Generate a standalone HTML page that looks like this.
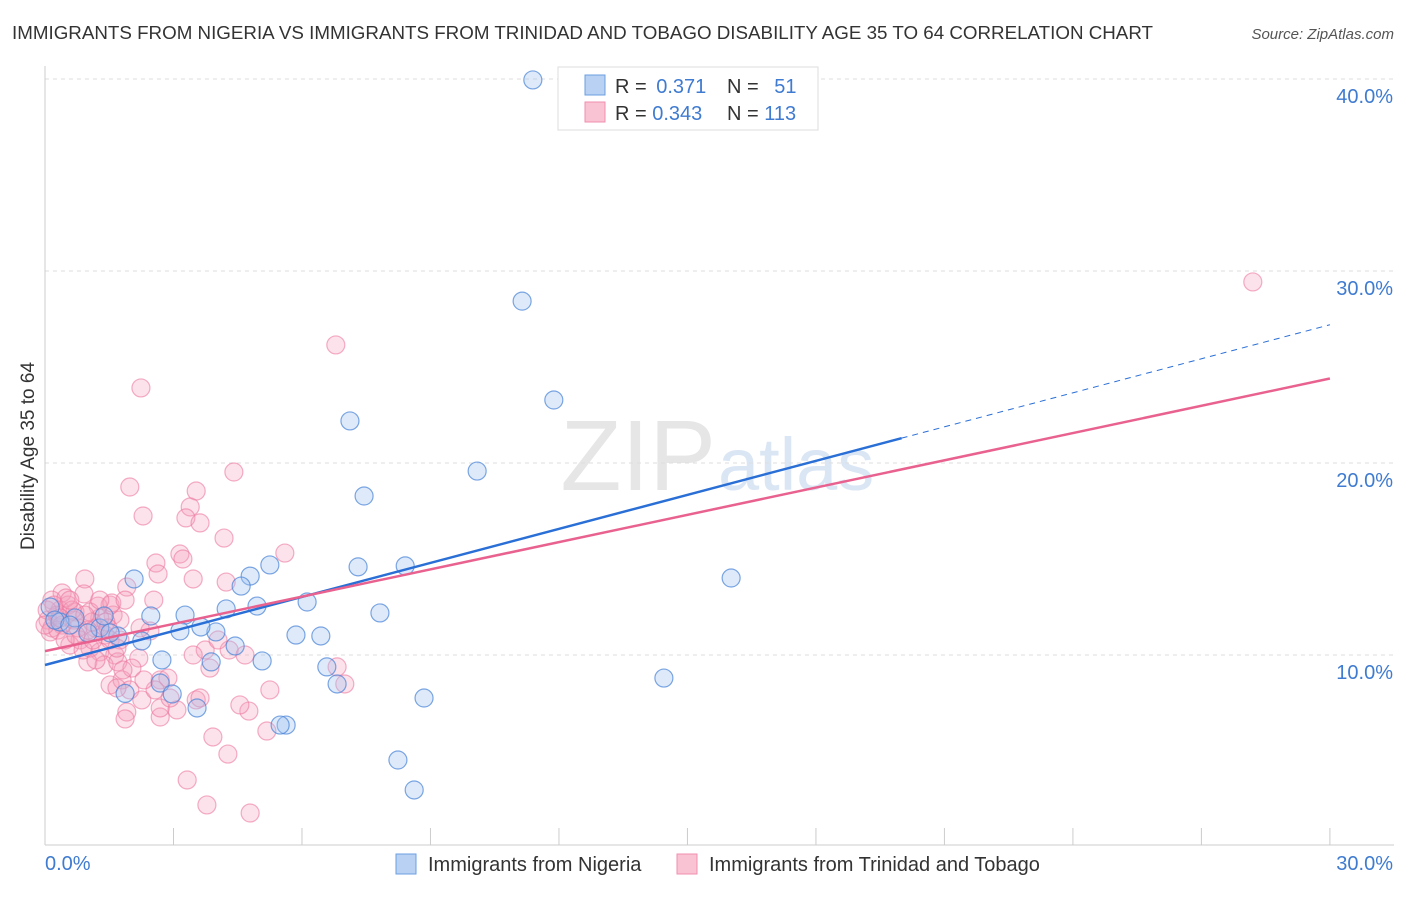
<!DOCTYPE html>
<html><head><meta charset="utf-8"><style>
body{margin:0;background:#fff;font-family:"Liberation Sans",sans-serif;}
svg text{font-family:"Liberation Sans",sans-serif;}
</style></head><body>
<svg width="1406" height="892" xmlns="http://www.w3.org/2000/svg">
<text x="12" y="39" font-size="18" fill="#333" textLength="1141" lengthAdjust="spacingAndGlyphs">IMMIGRANTS FROM NIGERIA VS IMMIGRANTS FROM TRINIDAD AND TOBAGO DISABILITY AGE 35 TO 64 CORRELATION CHART</text>
<text x="1394" y="39" font-size="15" fill="#555" font-style="italic" text-anchor="end">Source: ZipAtlas.com</text>
<text x="34" y="456" font-size="19" fill="#333" text-anchor="middle" transform="rotate(-90 34 456)">Disability Age 35 to 64</text>
<text x="716" y="490" font-size="100" fill="#e6e6e6" text-anchor="end" font-family="Liberation Serif">ZIP</text>
<text x="718" y="490" font-size="74" fill="#dbe6f5">atlas</text>
<g id="grid"></g>
<g id="axes"></g>
<g id="pink"></g>
<g id="blue"></g>
<g id="lines"></g>
<g>
<rect x="558" y="67" width="260" height="63" fill="#fff" stroke="#ddd"/>
<rect x="585" y="75" width="20" height="20" fill="#b9d2f3" stroke="#6a9fe0"/>
<rect x="585" y="102" width="20" height="20" fill="#f9c3d3" stroke="#ef8faf"/>
<text x="615" y="93" font-size="20" fill="#333">R = <tspan fill="#3f7bd0" dx="4">0.371</tspan></text>
<text x="727" y="93" font-size="20" fill="#333">N = <tspan fill="#3f7bd0" dx="10">51</tspan></text>
<text x="615" y="120" font-size="20" fill="#333">R = <tspan fill="#3f7bd0">0.343</tspan></text>
<text x="727" y="120" font-size="20" fill="#333">N = <tspan fill="#3f7bd0">113</tspan></text>
</g>
<g>
<rect x="396" y="854" width="20" height="20" fill="#b9d2f3" stroke="#6a9fe0"/>
<text x="428" y="871" font-size="20" fill="#333">Immigrants from Nigeria</text>
<rect x="677" y="854" width="20" height="20" fill="#f9c3d3" stroke="#ef8faf"/>
<text x="709" y="871" font-size="20" fill="#333">Immigrants from Trinidad and Tobago</text>
</g>
</svg>
<script>
const yTicks=[10,20,30,40];
const yTickLabels=["10.0%","20.0%","30.0%","40.0%"];
const xTickVals=[0,3,6,9,12,15,18,21,24,27,30];
const blueX=[11.39,11.14,11.88,7.12,10.09,7.45,16.02,8.41,7.31,5.25,4.79,4.58,2.08,6.12,4.95,4.23,3.27,2.47,7.82,5.86,6.44,3.99,3.64,3.15,1.70,2.26,4.44,5.07,2.73,3.88,6.58,6.82,2.69,2.97,3.55,14.45,8.85,5.63,5.49,8.24,8.62,1.87,1.28,1.00,0.70,0.35,0.12,0.23,1.38,0.58,1.52];
const blueY=[39.95,28.43,23.28,22.19,19.58,18.28,14.01,14.64,14.59,14.69,14.11,13.59,13.96,12.76,12.55,12.40,12.08,12.03,12.19,11.04,10.99,11.20,11.46,11.25,10.99,10.73,10.47,9.69,9.74,9.64,9.38,8.49,8.54,7.97,7.24,8.80,7.76,6.35,6.35,4.53,2.97,8.00,11.41,11.15,11.93,11.72,12.50,11.82,12.03,11.56,11.15];
const pinkX=[28.20,6.79,2.24,4.41,1.98,3.53,3.39,2.29,3.29,3.62,4.18,3.15,5.60,3.22,2.59,2.64,4.23,3.46,1.91,0.93,0.40,0.91,2.54,1.52,1.24,2.45,1.59,1.28,0.35,0.54,0.70,1.05,1.75,1.17,1.40,0.82,0.58,1.52,1.75,1.05,1.28,1.63,1.00,1.38,1.70,2.19,1.52,1.80,1.98,1.68,2.69,2.87,2.26,1.91,1.87,2.69,3.08,3.53,3.62,3.85,4.30,4.67,5.25,4.76,5.18,6.82,7.00,3.92,4.27,3.32,3.78,4.79,0.16,0.07,0.16,0.28,0.40,0.05,0.12,0.49,0.68,0.77,0.30,0.0,0.21,1.10,1.42,1.56,1.87,2.22,0.89,1.19,1.68,2.03,2.69,3.74,4.04,1.00,0.47,0.63,1.28,1.47,2.57,2.92,3.46,4.55,1.82,2.31,0.35,0.72,1.12,0.93,0.58];
const pinkY=[29.43,26.15,23.91,19.53,18.75,18.54,17.71,17.24,17.14,16.88,16.09,15.26,15.31,15.0,14.79,14.22,13.80,13.96,13.54,13.96,13.23,13.18,12.86,12.60,12.55,11.25,12.08,11.93,12.34,12.60,12.24,12.24,11.82,11.41,11.04,10.78,10.52,10.78,10.78,10.36,10.16,10.0,9.64,9.48,9.64,9.84,8.44,8.70,8.18,8.28,8.70,8.80,7.66,7.03,6.67,6.77,7.14,7.66,7.76,9.32,10.26,10.0,8.18,7.08,6.04,9.38,8.49,5.73,4.84,3.49,2.19,1.77,12.86,11.82,11.41,12.08,11.56,12.34,11.20,12.97,11.82,11.41,11.30,11.56,12.60,11.72,11.72,12.71,12.86,11.41,10.26,9.74,10.36,9.32,7.24,10.26,10.78,11.30,10.78,12.34,12.86,11.41,8.18,7.76,10.0,7.40,9.22,8.70,11.93,11.04,10.78,12.08,12.86];
const blueTrend=[9.48,27.2];
const blueSolidEnd=20.0;
const pinkTrend=[10.2,24.4];

const NS="http://www.w3.org/2000/svg";
const sx=v=>45+v*42.83, sy=v=>847-v*19.2;
function mk(tag,attrs,parent){const e=document.createElementNS(NS,tag);for(const k in attrs)e.setAttribute(k,attrs[k]);document.getElementById(parent).appendChild(e);return e;}
yTicks.forEach((t,i)=>{
  const g=mk('line',{x1:45,x2:1394,y1:sy(t),y2:sy(t),stroke:'#ddd','stroke-dasharray':'4,4'},'grid');
  
  
  const l=mk('text',{x:1393,y:sy(t)+24,'font-size':20,fill:'#3f7bd0','text-anchor':'end'},'grid');
  l.textContent=yTickLabels[i];
  
  
});
let a=mk('line',{x1:45,x2:45,y1:66,y2:845,stroke:'#ccc'},'axes');


a=mk('line',{x1:45,x2:1394,y1:845,y2:845,stroke:'#ccc'},'axes');


xTickVals.forEach(v=>{
  const t=mk('line',{x1:sx(v),x2:sx(v),y1:828,y2:845,stroke:'#ccc'},'axes');
  
  
});
let xl=mk('text',{x:45,y:870,'font-size':20,fill:'#3f7bd0'},'axes');xl.textContent='0.0%';


xl=mk('text',{x:1393,y:870,'font-size':20,fill:'#3f7bd0','text-anchor':'end'},'axes');xl.textContent='30.0%';


pinkX.forEach((x,i)=>{
  const c=mk('circle',{cx:sx(x),cy:sy(pinkY[i]),r:9,fill:'rgba(245,160,188,0.3)',stroke:'rgba(236,120,158,0.6)','stroke-width':1.2},'pink');
  
  
});
blueX.forEach((x,i)=>{
  const c=mk('circle',{cx:sx(x),cy:sy(blueY[i]),r:9,fill:'rgba(160,196,240,0.35)',stroke:'rgba(70,130,215,0.7)','stroke-width':1.2},'blue');
  
  
});
const by=x=>blueTrend[0]+(blueTrend[1]-blueTrend[0])*x/30;
let ln=mk('line',{x1:sx(0),y1:sy(by(0)),x2:sx(blueSolidEnd),y2:sy(by(blueSolidEnd)),stroke:'#2a6fd6','stroke-width':2.5},'lines');


ln=mk('line',{x1:sx(blueSolidEnd),y1:sy(by(blueSolidEnd)),x2:sx(30),y2:sy(by(30)),stroke:'#2a6fd6','stroke-width':1,'stroke-dasharray':'6,5'},'lines');


ln=mk('line',{x1:sx(0),y1:sy(pinkTrend[0]),x2:sx(30),y2:sy(pinkTrend[1]),stroke:'#e9628f','stroke-width':2.5},'lines');


</script>
</body></html>
